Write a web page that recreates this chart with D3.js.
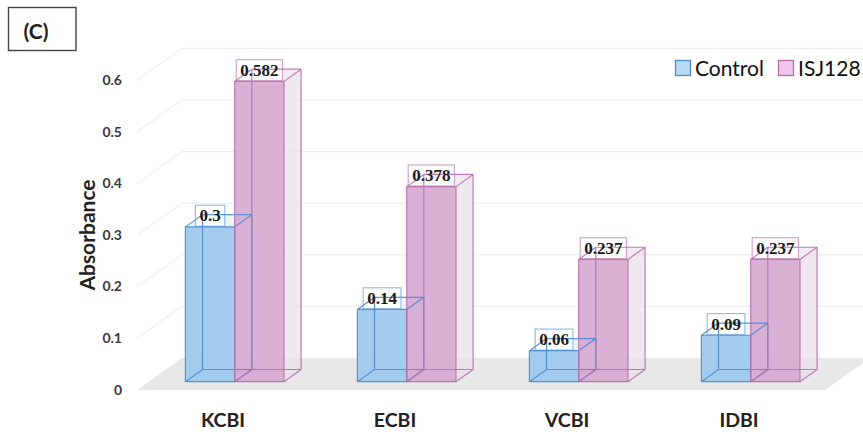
<!DOCTYPE html>
<html>
<head>
<meta charset="utf-8">
<script src="https://cdn.jsdelivr.net/npm/d3@7"></script>
<style>
  html, body { margin: 0; padding: 0; background: #fff; }
  svg { display: block; }
</style>
</head>
<body>
<svg id="chart" width="863" height="432"></svg>
<script>
// Absorbance per assay, two treatments
const categories = ["KCBI", "ECBI", "VCBI", "IDBI"];
const seriesNames = ["Control", "ISJ128"];
const controlValues = [0.3, 0.14, 0.06, 0.09];
const isj128Values = [0.582, 0.378, 0.237, 0.237];
const tickValues = [0, 0.1, 0.2, 0.3, 0.4, 0.5, 0.6];

const seriesValues = [controlValues, isj128Values];

// drawing styles per series
const styles = {
  Control: {
    front: "#9fc9ee", frontOpacity: 0.95,
    top: "#e6f0fa", side: "#dce9f6",
    edge: "#4a8bd0", labelBorder: "#95c0e3",
    swatch: "#b8dcf6"
  },
  ISJ128: {
    front: "#d6a7d0", frontOpacity: 0.9,
    top: "#efe8ef", side: "#e9e2ea",
    edge: "#b86fae", labelBorder: "#d4a6cf",
    swatch: "#f3c6ec"
  }
};

const svg = d3.select("#chart");

// front plane of the 3D box and its depth vector
const plot = { left: 137, right: 825, base: 390, unit: 516 };
const depth = { dx: 45, dy: -32 };
const barDepth = [0.26, 0.64];

const x = d3.scaleBand().domain(categories).range([plot.left, plot.right]).padding(0);
const xs = d3.scaleBand().domain(seriesNames).range([0, x.bandwidth()])
  .paddingInner(0).paddingOuter(0.745);
const y = d3.scaleLinear().domain([0, 0.6]).range([plot.base, plot.base - 0.6 * plot.unit]);

const P = (px, py, t) => [px + t * depth.dx, py + t * depth.dy];
const line = d3.line();

// floor
const floorPts = [P(plot.left, y(0), 0), P(plot.right, y(0), 0), P(plot.right, y(0), 1), P(plot.left, y(0), 1)];
svg.append("path").attr("d", line(floorPts) + "Z").attr("fill", "#e8e8e8");

// gridlines: side wall diagonals + back wall horizontals
const grid = svg.append("g").attr("stroke", "#ebebeb").attr("stroke-width", 1).attr("fill", "none");
tickValues.forEach(v => {
  if (v === 0) return;
  grid.append("path").attr("d", line([P(plot.left, y(v), 0), P(plot.left, y(v), 1)]));
  grid.append("path").attr("d", line([P(plot.left, y(v), 1), P(plot.right + 60, y(v), 1)]));
});

// y tick labels
svg.append("g").selectAll("text").data(tickValues).join("text")
  .attr("x", 122).attr("y", d => y(d) + 1)
  .attr("text-anchor", "end").attr("dominant-baseline", "middle")
  .attr("font-family", "Lato, 'Liberation Sans', sans-serif")
  .attr("font-weight", "bold").attr("font-size", 14).attr("fill", "#3a3a3a")
  .text(d => d === 0 ? "0" : d3.format(".1f")(d));

// y axis title
svg.append("text")
  .attr("transform", "translate(95,235) rotate(-90)")
  .attr("text-anchor", "middle")
  .attr("font-family", "Lato, 'Liberation Sans', sans-serif")
  .attr("font-weight", "bold").attr("font-size", 21).attr("fill", "#222")
  .text("Absorbance");

// category labels
svg.append("g").selectAll("text").data(categories).join("text")
  .attr("x", d => x(d) + x.bandwidth() / 2).attr("y", 427)
  .attr("text-anchor", "middle")
  .attr("font-family", "Lato, 'Liberation Sans', sans-serif")
  .attr("font-weight", "bold").attr("font-size", 19.5).attr("fill", "#222")
  .text(d => d);

// bar geometry
const bars = [];
categories.forEach((c, i) => {
  seriesNames.forEach((s, j) => {
    const x0 = x(c) + xs(s), x1 = x0 + xs.bandwidth();
    const v = seriesValues[j][i];
    const yb = y(0), yt = y(v);
    const [t0, t1] = barDepth;
    const f = { lb: P(x0, yb, t0), rb: P(x1, yb, t0), rt: P(x1, yt, t0), lt: P(x0, yt, t0) };
    const b = { lb: P(x0, yb, t1), rb: P(x1, yb, t1), rt: P(x1, yt, t1), lt: P(x0, yt, t1) };
    bars.push({ c, s, v, f, b, st: styles[s] });
  });
});

const faceLayer = svg.append("g");
const labelBoxLayer = svg.append("g");
const edgeLayer = svg.append("g");
const labelTextLayer = svg.append("g");

bars.forEach(d => {
  const g = faceLayer.append("g");
  g.append("path").attr("d", line([d.f.rb, d.b.rb, d.b.rt, d.f.rt]) + "Z")
    .attr("fill", d.st.side).attr("fill-opacity", 0.75);
  g.append("path").attr("d", line([d.f.lt, d.f.rt, d.b.rt, d.b.lt]) + "Z")
    .attr("fill", d.st.top).attr("fill-opacity", 0.8);
  g.append("path").attr("d", line([d.f.lb, d.f.rb, d.f.rt, d.f.lt]) + "Z")
    .attr("fill", d.st.front).attr("fill-opacity", d.st.frontOpacity);

  const edges = [
    [d.f.lb, d.f.rb], [d.f.rb, d.f.rt], [d.f.rt, d.f.lt], [d.f.lt, d.f.lb],
    [d.b.lb, d.b.rb], [d.b.rb, d.b.rt], [d.b.rt, d.b.lt], [d.b.lt, d.b.lb],
    [d.f.lb, d.b.lb], [d.f.rb, d.b.rb], [d.f.rt, d.b.rt], [d.f.lt, d.b.lt]
  ];
  edgeLayer.append("g").selectAll("path").data(edges).join("path")
    .attr("d", e => line(e)).attr("fill", "none")
    .attr("stroke", d.st.edge).attr("stroke-width", 1.2).attr("stroke-opacity", 0.9);

  // value label above the bar
  const cx = (d.f.lb[0] + d.f.rb[0]) / 2;
  const cy = d.b.lt[1] + 1;
  const txt = labelTextLayer.append("text")
    .attr("x", cx).attr("y", cy)
    .attr("text-anchor", "middle").attr("dominant-baseline", "central")
    .attr("font-family", "'Liberation Serif', 'DejaVu Serif', serif")
    .attr("font-weight", "bold").attr("font-size", 17).attr("fill", "#1a1a1a")
    .text(String(d.v));
  const w = txt.node().getComputedTextLength() + 8;
  labelBoxLayer.append("rect")
    .attr("x", cx - w / 2).attr("y", cy - 10.5).attr("width", w).attr("height", 21)
    .attr("fill", "#ffffff").attr("fill-opacity", 0.85)
    .attr("stroke", d.st.labelBorder).attr("stroke-width", 1.2);
});

// legend
const legend = svg.append("g");
const legendX = [675.5, 778.5];
seriesNames.forEach((s, j) => {
  legend.append("rect").attr("x", legendX[j]).attr("y", 60.5).attr("width", 15).attr("height", 15)
    .attr("fill", styles[s].swatch).attr("stroke", styles[s].edge).attr("stroke-width", 1.3);
  legend.append("text").attr("x", legendX[j] + 19.5).attr("y", 76)
    .attr("font-family", "Lato, 'Liberation Sans', sans-serif")
    .attr("font-size", 21).attr("fill", "#111")
    .text(s);
});

// panel tag
svg.append("rect").attr("x", 8.5).attr("y", 7.5).attr("width", 67.5).attr("height", 43)
  .attr("fill", "#fff").attr("stroke", "#444").attr("stroke-width", 1.4);
svg.append("text").attr("x", 23.5).attr("y", 39)
  .attr("font-family", "Lato, 'Liberation Sans', sans-serif")
  .attr("font-weight", "bold").attr("font-size", 21).attr("fill", "#222")
  .text("(C)");
</script>
</body>
</html>
